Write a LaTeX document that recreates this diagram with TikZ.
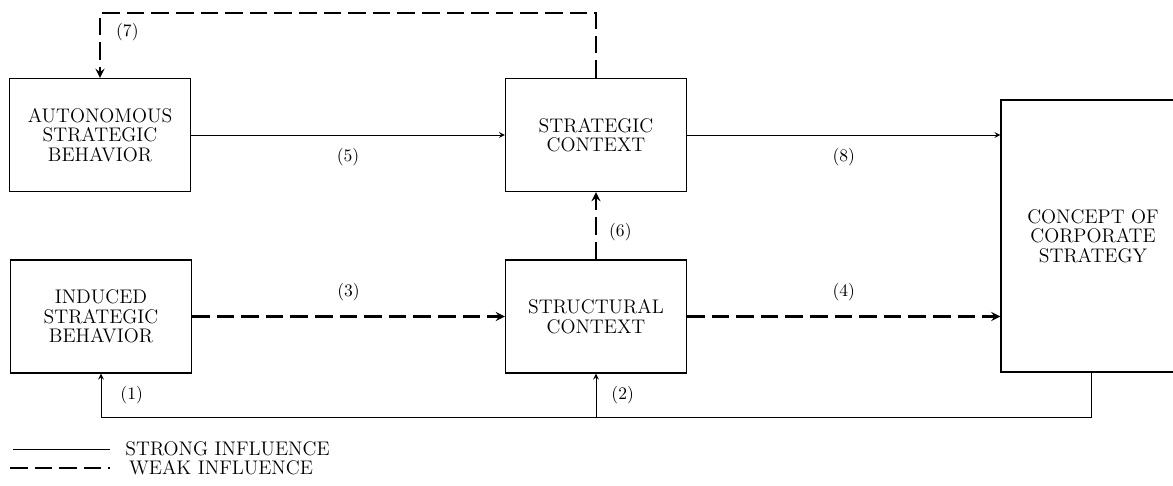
\documentclass[tikz,border=0pt]{standalone}
\usepackage{tikz}
\usetikzlibrary{positioning,arrows}

\tikzset{
  block/.style={draw, line width=0.7pt, inner sep=0pt, align=center,
    minimum width=3.62cm, minimum height=2.26cm,
    font=\fontsize{11.2}{11.1}\selectfont},
  strong/.style={line width=0.5pt},
  weak/.style={line width=1.3pt, dash pattern=on 10pt off 4pt},
  tag/.style={inner sep=0pt, font=\fontsize{10}{10}\selectfont},
  legend/.style={inner sep=0pt, font=\fontsize{11.2}{11.2}\selectfont},
}

\begin{document}
\begin{tikzpicture}[x=0.02cm, y=-0.02cm]
    \useasboundingbox (0,0) rectangle (1173,485);
    % boxes
    \node[block] at (100,135) (autonomous) {AUTONOMOUS\\STRATEGIC\\BEHAVIOR};
    \node[block] at (101,316.5) (induced) {INDUCED\\STRATEGIC\\BEHAVIOR};
    \node[block] at (596,135) (strategic) {STRATEGIC\\CONTEXT};
    \node[block] at (596,316.5) (structural) {STRUCTURAL\\CONTEXT};
    \node[block, minimum width=3.68cm, minimum height=5.44cm] at (1093,236) (concept) {CONCEPT OF\\CORPORATE\\STRATEGY};
    \coordinate (loopL) at (100,13);
    \coordinate (loopR) at (596,13);
    \coordinate (busR) at (1091,417);
    \coordinate (busM) at (596,417);
    \coordinate (busL) at (101,417);

    \path[->, >=stealth]
    (autonomous) edge [strong] node[tag, below=0.26cm] {(5)} (strategic)
    (strategic.east) edge [strong] node[tag, below=0.26cm] {(8)} (strategic.east -| concept.west)
    (induced) edge [weak] node[tag, above=0.28cm] {(3)} (structural)
    (structural.east) edge [weak] node[tag, above=0.28cm] {(4)} (structural.east -| concept.west)
    (structural) edge [weak] node[tag, right=0.24cm, pos=0.4] {(6)} (strategic)
    ;
    \draw[weak, ->, >=stealth] (strategic) -- (loopR) -- (loopL)
      -- node[tag, right=0.3cm, pos=0.3] {(7)} (autonomous);
    \draw[strong, ->, >=stealth] (busR |- concept.south) -- (busR) -- (busL)
      -- node[tag, right=0.38cm] {(1)} (induced);
    \draw[strong, ->, >=stealth] (busM) -- node[tag, right=0.3cm] {(2)} (structural);

    % legend
    \coordinate (strongA) at (13,449);
    \coordinate (strongB) at (110,449);
    \coordinate (weakA) at (10,468);
    \coordinate (weakB) at (110,468);
    \draw[strong] (strongA) -- (strongB) node[legend, right=0.3cm] {STRONG INFLUENCE};
    \draw[weak] (weakA) -- (weakB) node[legend, right=0.36cm] {WEAK INFLUENCE};
\end{tikzpicture}
\end{document}
